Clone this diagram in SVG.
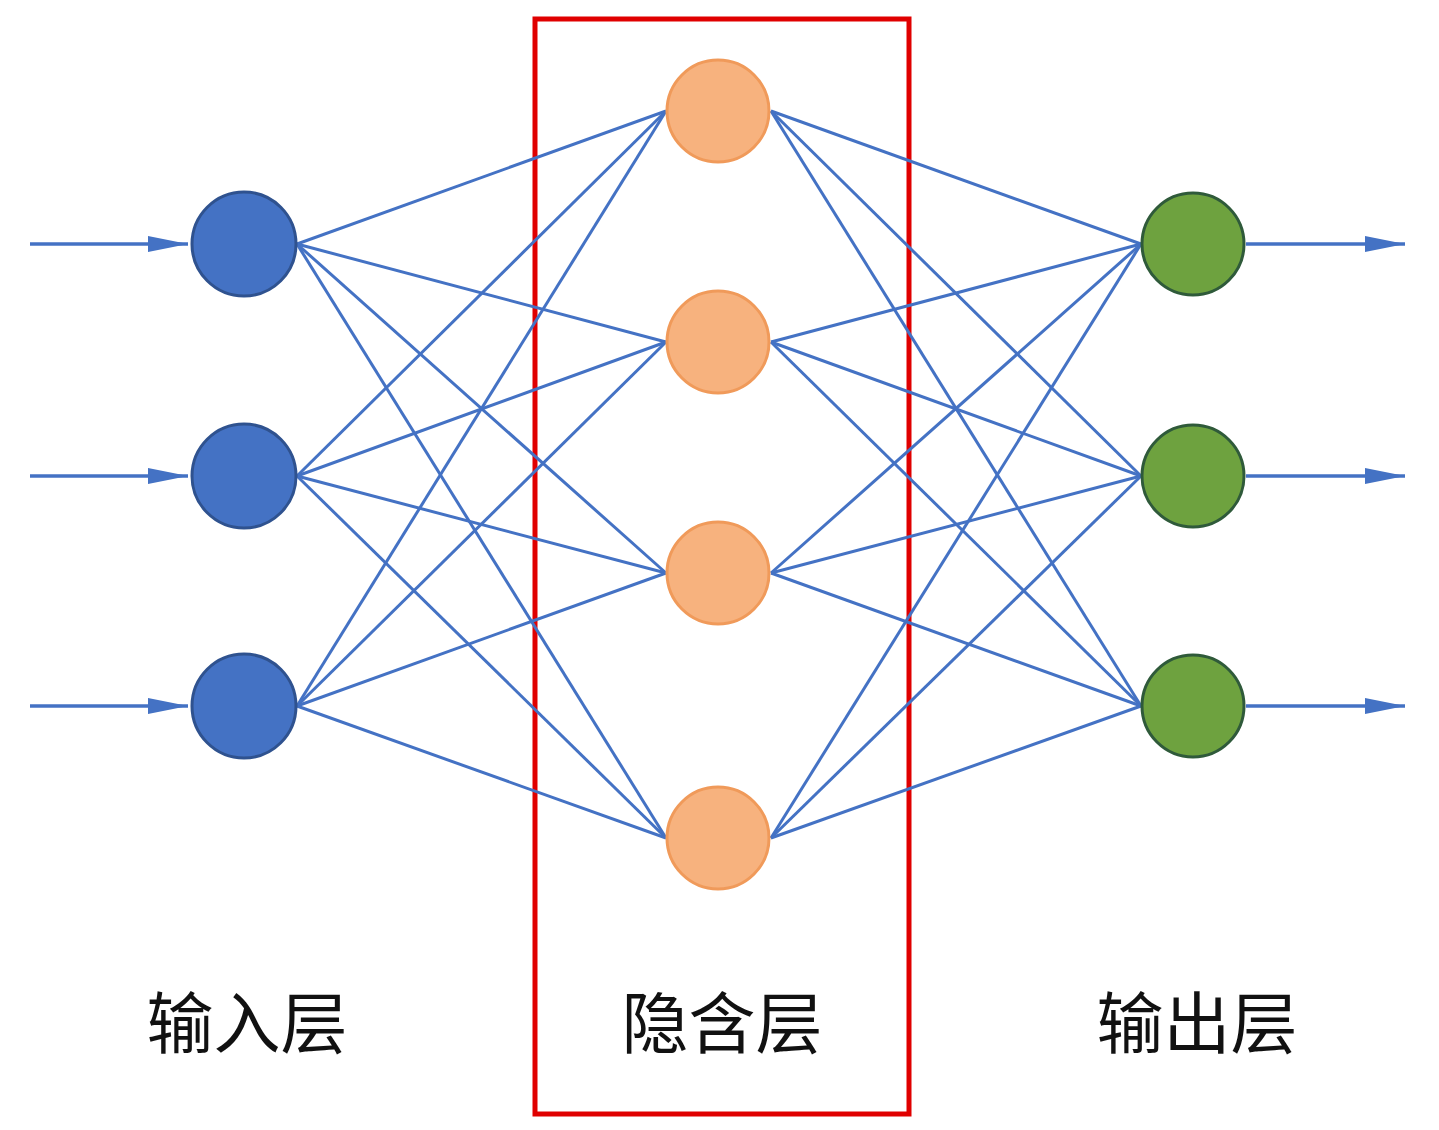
<svg xmlns="http://www.w3.org/2000/svg" width="1439" height="1130" viewBox="0 0 1439 1130">
<style>
.c{stroke:#4472c4;stroke-width:3;fill:none}
.io{stroke:#4472c4;stroke-width:3.5;fill:none}
.in{fill:#4472c4;stroke:#2f528f;stroke-width:3}
.hid{fill:#f7b27e;stroke:#f09a5a;stroke-width:3}
.out{fill:#6ea23f;stroke:#2f5a3a;stroke-width:3}
.t{font-family:"Noto Sans CJK SC","Noto Sans CJK TC",sans-serif;font-size:67px;fill:#111;text-anchor:middle}
</style>
<defs>
<marker id="ah2" viewBox="0 0 40 18" refX="40" refY="9" markerWidth="40" markerHeight="18" markerUnits="userSpaceOnUse" orient="auto">
<path d="M0,1 L40,9 L0,17 Z" fill="#4472c4"/>
</marker>
</defs>
<rect x="535" y="19" width="374" height="1095" fill="none" stroke="#e00000" stroke-width="5"/>
<g id="connectors">
<line class="io" x1="30" y1="244" x2="188" y2="244" marker-end="url(#ah2)"/>
<line class="io" x1="30" y1="476" x2="188" y2="476" marker-end="url(#ah2)"/>
<line class="io" x1="30" y1="706" x2="188" y2="706" marker-end="url(#ah2)"/>
<line class="io" x1="1246" y1="244" x2="1405" y2="244" marker-end="url(#ah2)"/>
<line class="io" x1="1246" y1="476" x2="1405" y2="476" marker-end="url(#ah2)"/>
<line class="io" x1="1246" y1="706" x2="1405" y2="706" marker-end="url(#ah2)"/>
<line class="c" x1="297" y1="244" x2="666" y2="111"/>
<line class="c" x1="297" y1="244" x2="666" y2="342"/>
<line class="c" x1="297" y1="244" x2="666" y2="573"/>
<line class="c" x1="297" y1="244" x2="666" y2="838"/>
<line class="c" x1="297" y1="476" x2="666" y2="111"/>
<line class="c" x1="297" y1="476" x2="666" y2="342"/>
<line class="c" x1="297" y1="476" x2="666" y2="573"/>
<line class="c" x1="297" y1="476" x2="666" y2="838"/>
<line class="c" x1="297" y1="706" x2="666" y2="111"/>
<line class="c" x1="297" y1="706" x2="666" y2="342"/>
<line class="c" x1="297" y1="706" x2="666" y2="573"/>
<line class="c" x1="297" y1="706" x2="666" y2="838"/>
<line class="c" x1="771" y1="111" x2="1141" y2="244"/>
<line class="c" x1="771" y1="111" x2="1141" y2="476"/>
<line class="c" x1="771" y1="111" x2="1141" y2="706"/>
<line class="c" x1="771" y1="342" x2="1141" y2="244"/>
<line class="c" x1="771" y1="342" x2="1141" y2="476"/>
<line class="c" x1="771" y1="342" x2="1141" y2="706"/>
<line class="c" x1="771" y1="573" x2="1141" y2="244"/>
<line class="c" x1="771" y1="573" x2="1141" y2="476"/>
<line class="c" x1="771" y1="573" x2="1141" y2="706"/>
<line class="c" x1="771" y1="838" x2="1141" y2="244"/>
<line class="c" x1="771" y1="838" x2="1141" y2="476"/>
<line class="c" x1="771" y1="838" x2="1141" y2="706"/>
</g>
<g id="in1"><circle class="in" cx="244" cy="244" r="52"/></g>
<g id="in2"><circle class="in" cx="244" cy="476" r="52"/></g>
<g id="in3"><circle class="in" cx="244" cy="706" r="52"/></g>
<g id="h1"><circle class="hid" cx="718" cy="111" r="51"/></g>
<g id="h2"><circle class="hid" cx="718" cy="342" r="51"/></g>
<g id="h3"><circle class="hid" cx="718" cy="573" r="51"/></g>
<g id="h4"><circle class="hid" cx="718" cy="838" r="51"/></g>
<g id="o1"><circle class="out" cx="1193" cy="244" r="51"/></g>
<g id="o2"><circle class="out" cx="1193" cy="476" r="51"/></g>
<g id="o3"><circle class="out" cx="1193" cy="706" r="51"/></g>
<g id="labels">
<text class="t" x="247" y="1048">输入层</text>
<text class="t" x="722" y="1048">隐含层</text>
<text class="t" x="1197" y="1048">输出层</text>
</g>
</svg>
